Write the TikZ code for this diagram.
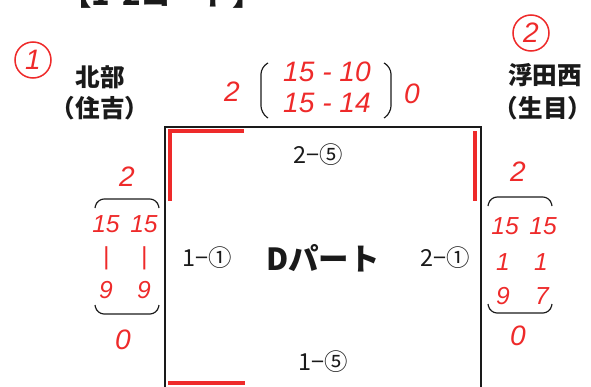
\documentclass[tikz,border=0pt]{standalone}
\usepackage{fontspec}
\newfontfamily\jp{Noto Sans CJK JP}
\newfontfamily\hand{Liberation Sans}
\usetikzlibrary{positioning}
\definecolor{Ink}{HTML}{1A1A1A}
\definecolor{Pen}{HTML}{EE2A2A}
\tikzset{
  court/.style={draw=Ink,line width=2.4pt},
  penline/.style={draw=Pen,line width=3.6pt},
  team/.style={font=\jp\bfseries\fontsize{21}{21}\selectfont,text=Ink,inner sep=0pt},
  slot/.style={font=\jp\fontsize{20}{20}\selectfont,text=Ink,inner sep=0pt},
  score/.style={font=\hand\itshape\fontsize{24}{24}\selectfont,text=Pen,inner sep=0pt},
  col/.style={score,font=\hand\itshape\fontsize{21}{21}\selectfont},
  brk/.style={draw=Ink,line width=1pt,rounded corners=6pt},
  seed/.style={draw=Pen,line width=1.3pt}
}
\begin{document}
\begin{tikzpicture}[x=0.03cm,y=-0.03cm]
  \useasboundingbox (0,0) rectangle (591,386);
  % title, cut at the top edge
  \node[font=\jp\bfseries\fontsize{26}{26}\selectfont,text=Ink,inner sep=0pt] (title) at (162,-6) {【1-2コート】};
  % court
  \draw[court] (165,400) -- (165,127) -- (481,127) -- (481,400);
  \draw[penline] (170,201) -- (170,131) -- (244,131);
  \draw[penline] (475,131) -- (475,201);
  \draw[penline] (168,383) -- (245,383);
  \node[font=\jp\bfseries\fontsize{26}{26}\selectfont,text=Ink,inner sep=0pt] (part) at (323,258) {Dパート};
  \node[slot] (top) at (318,155) {2−⑤};
  \node[slot] (bot) at (323,362) {1−⑤};
  \node[slot] (lft) at (207,258) {1−①};
  \node[slot] (rgt) at (445,258) {2−①};
  % teams
  \draw[seed] (33,60) circle (18);
  \node[score] (s1) at (33,60) {1};
  \node[team] (t1) at (100,77) {北部};
  \node[team] (t1b) at (100,108) {（住吉）};
  \draw[seed] (531,33) circle (18);
  \node[score] (s2) at (531,33) {2};
  \node[team] (t2) at (545,75) {浮田西};
  \node[team] (t2b) at (543,108) {（生目）};
  % top result
  \node[score] (tw) at (232,92) {2};
  \node[score] (tl) at (412,94) {0};
  \node[score] (tg1) at (327,72) {15 - 10};
  \node[score] (tg2) at (327,103) {15 - 14};
  \draw[brk] (268,63) -- (261,67) -- (261,113) -- (268,118);
  \draw[brk] (384,63) -- (391,67) -- (391,113) -- (384,118);
  % left result
  \node[score] (lw) at (127,177) {2};
  \draw[brk] (95,208) -- (97,199) -- (157,199) -- (159,208);
  \draw[brk] (95,305) -- (97,314) -- (157,314) -- (159,305);
  \node[col] (la1) at (106,224) {15};
  \node[col] (la2) at (144,224) {15};
  \node[col] (lb1) at (106,258) {|};
  \node[col] (lb2) at (144,258) {|};
  \node[col] (lc1) at (106,290) {9};
  \node[col] (lc2) at (144,290) {9};
  \node[score] (ll) at (123,340) {0};
  % right result
  \node[score] (rw) at (518,172) {2};
  \draw[brk] (488,206) -- (490,197) -- (550,197) -- (552,206);
  \draw[brk] (488,304) -- (490,313) -- (550,313) -- (552,304);
  \node[col] (ra1) at (505,226) {15};
  \node[col] (ra2) at (543,226) {15};
  \node[col] (rb1) at (503,262) {1};
  \node[col] (rb2) at (541,262) {1};
  \node[col] (rc1) at (503,296) {9};
  \node[col] (rc2) at (542,296) {7};
  \node[score] (rl) at (518,336) {0};
\end{tikzpicture}
\end{document}
